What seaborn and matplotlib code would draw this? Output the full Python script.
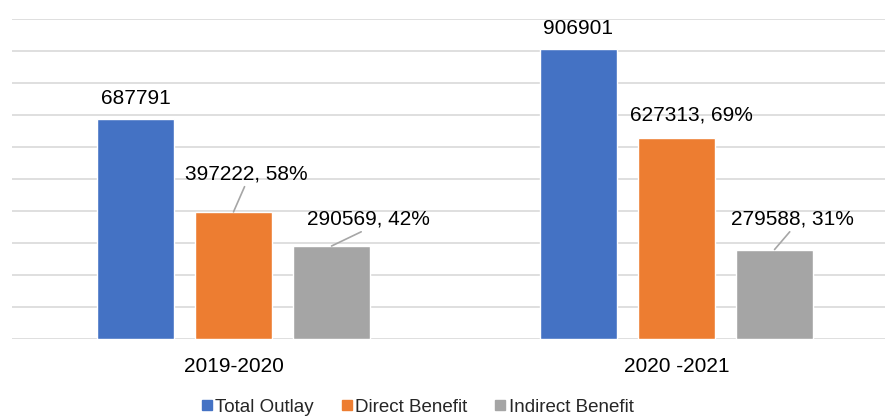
import numpy as np
import pandas as pd
import matplotlib
matplotlib.use("Agg")
import matplotlib.pyplot as plt
import seaborn as sns
from matplotlib.lines import Line2D

# Data
years = ["2019-2020", "2020 -2021"]
series = ["Total Outlay", "Direct Benefit", "Indirect Benefit"]
total_outlay = [687791, 906901]
direct_benefit = [397222, 627313]
indirect_benefit = [290569, 279588]

# Style
COLORS = ["#4472C4", "#ED7D31", "#A5A5A5"]
GRID_COLOR = "#D9D9D9"
LEADER_COLOR = "#A6A6A6"

sns.set_theme(style="white")
plt.rcParams['font.family'] = ['Liberation Sans', 'DejaVu Sans']

df = pd.DataFrame({
    "year": years * len(series),
    "series": np.repeat(series, len(years)),
    "value": total_outlay + direct_benefit + indirect_benefit,
})

fig = plt.figure(figsize=(8.85, 4.19), dpi=100)
ax = fig.add_axes([12 / 885, 1 - 339 / 419, 886 / 885, 320 / 419])

sns.barplot(
    data=df, x="year", y="value", hue="series",
    order=years, hue_order=series, palette=COLORS,
    width=0.664, gap=0.213, saturation=1,
    errorbar=None, legend=False, ax=ax,
)

# Axes styling
ax.set_ylim(0, 1_000_000)
ax.set_yticks(np.arange(0, 1_000_001, 100_000))
ax.yaxis.grid(True, color=GRID_COLOR, linewidth=1.2)
ax.set_axisbelow(True)
ax.tick_params(axis="y", left=False, labelleft=False)
ax.tick_params(axis="x", length=0, pad=13, labelsize=15, labelcolor="black")
ax.set_xlabel("")
ax.set_ylabel("")
for spine in ax.spines.values():
    spine.set_visible(False)

# Data labels: offsets in pixels from the top centre of each bar
label_offsets = {
    "Total Outlay": [(0, 20), (0, 20)],
    "Direct Benefit": [(12.5, 38), (15, 23)],
    "Indirect Benefit": [(36.5, 27), (18, 30.5)],
}
leader_lines = {
    "Total Outlay": [False, False],
    "Direct Benefit": [True, False],
    "Indirect Benefit": [True, True],
}

for name, container in zip(series, ax.containers):
    for j, bar in enumerate(container):
        value = int(round(bar.get_height()))
        if name == "Total Outlay":
            text = f"{value}"
        else:
            pct = round(100 * value / total_outlay[j])
            text = f"{value}, {pct}%"
        arrow = None
        if leader_lines[name][j]:
            arrow = dict(arrowstyle="-", color=LEADER_COLOR, lw=1.2,
                         relpos=(0.5, 0), shrinkA=0, shrinkB=0)
        ax.annotate(
            text,
            xy=(bar.get_x() + bar.get_width() / 2, bar.get_height()),
            xytext=label_offsets[name][j], textcoords="offset pixels",
            ha="center", va="center", fontsize=15, color="black",
            arrowprops=arrow, annotation_clip=False,
        )

# Legend, kept just inside the bottom edge
handles = [Line2D([], [], marker="s", linestyle="", markersize=6.5,
                  color=c) for c in COLORS]
fig.legend(
    handles, series, loc="lower center", bbox_to_anchor=(417.5 / 885, -8 / 419),
    ncol=3, frameon=False, fontsize=13.5, handlelength=0.6,
    handletextpad=0.15, columnspacing=1.45, borderpad=0.1,
)

fig.savefig("out.png", dpi=100)
